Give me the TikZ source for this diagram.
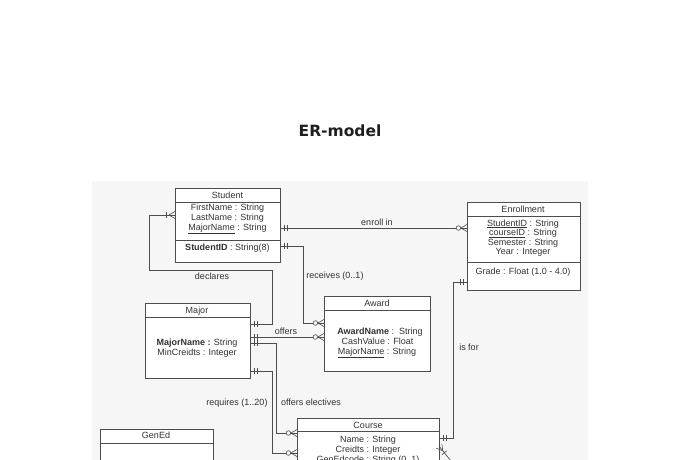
\documentclass[tikz,border=0pt]{standalone}
\usepackage{fontspec}
\setmainfont{Liberation Sans}
\newfontfamily\titlefont{DejaVu Sans}
\usetikzlibrary{calc,decorations.markings}
\definecolor{bg}{HTML}{F6F6F6}
\definecolor{ln}{HTML}{4D4D4D}
\definecolor{tx}{HTML}{333333}
\tikzset{
  box/.style={draw=ln, line width=0.8pt, fill=white, inner sep=0pt, outer sep=0pt, anchor=north west},
  boxline/.style={draw=ln, line width=0.8pt},
  txt/.style={text=tx, font=\fontsize{9}{10}\selectfont, inner sep=0pt, anchor=base},
  conn/.style={draw=ln, line width=0.7pt},
  mk/.style={draw=ln, line width=0.6pt},
  onestart/.style={postaction={decorate, decoration={markings,
    mark=at position 4pt with {\draw[mk] (0,-3) -- (0,3);},
    mark=at position 7pt with {\draw[mk] (0,-3) -- (0,3);}}}},
  oneend/.style={postaction={decorate, decoration={markings,
    mark=at position -4pt with {\draw[mk] (0,-3) -- (0,3);},
    mark=at position -7pt with {\draw[mk] (0,-3) -- (0,3);}}}},
  zmanyend/.style={postaction={decorate, decoration={markings,
    mark=at position -0.1pt with {\draw[mk] (-6,0) -- (0,3.5) (-6,0) -- (0,-3.5);
      \draw[mk, fill=bg] (-8.5,0) circle[radius=2.3pt];}}}},
  onemanyend/.style={postaction={decorate, decoration={markings,
    mark=at position -0.1pt with {\draw[mk] (-6,0) -- (0,3.5) (-6,0) -- (0,-3.5);
      \draw[mk] (-8.5,-3) -- (-8.5,3);}}}},
  manystart/.style={postaction={decorate, decoration={markings,
    mark=at position 0.1pt with {\draw[mk] (6,0) -- (0,3.5) (6,0) -- (0,-3.5);
      \draw[mk] (8.5,-3) -- (8.5,3);}}}},
}
\begin{document}
\begin{tikzpicture}[x=1pt,y=-1pt]
\useasboundingbox (0,0) rectangle (680,459);
\clip (0,0) rectangle (680,459);
\fill[bg] (92,181) rectangle (588,470);

\node[anchor=base, inner sep=0pt, text=black!88, font=\titlefont\bfseries\fontsize{15.5}{18}\selectfont] (title) at (340,136) {ER-model};

% entity boxes
\node[box, minimum width=105pt, minimum height=74pt] (student) at (175,188) {};
\draw[boxline] ($(student.north west)+(0,14)$) -- ($(student.north east)+(0,14)$);
\draw[boxline] ($(student.north west)+(0,52)$) -- ($(student.north east)+(0,52)$);

\node[box, minimum width=113pt, minimum height=88pt] (enrollment) at (467,202) {};
\draw[boxline] ($(enrollment.north west)+(0,14)$) -- ($(enrollment.north east)+(0,14)$);
\draw[boxline] ($(enrollment.north west)+(0,60)$) -- ($(enrollment.north east)+(0,60)$);

\node[box, minimum width=106pt, minimum height=75pt] (award) at (324,296) {};
\draw[boxline] ($(award.north west)+(0,14)$) -- ($(award.north east)+(0,14)$);

\node[box, minimum width=105pt, minimum height=75pt] (major) at (145,303) {};
\draw[boxline] ($(major.north west)+(0,14)$) -- ($(major.north east)+(0,14)$);

\node[box, minimum width=142pt, minimum height=60pt] (course) at (297,418) {};
\draw[boxline] ($(course.north west)+(0,13)$) -- ($(course.north east)+(0,13)$);

\node[box, minimum width=113pt, minimum height=60pt] (gened) at (100,429) {};
\draw[boxline] ($(gened.north west)+(0,14)$) -- ($(gened.north east)+(0,14)$);

% texts
\node[txt] (studentT) at (227.5,198) {Student};
\node[txt] (studentA1) at (227.5,210) {FirstName : String};
\node[txt] (studentA2) at (227.5,220) {LastName : String};
\node[txt] (studentA3) at (227.5,230) {\underline{MajorName} : String};
\node[txt] (studentK) at (227.5,250) {\textbf{StudentID} : String(8)};

\node[txt] (enrollT) at (523,212) {Enrollment};
\node[txt] (enrollA1) at (523,226) {\underline{StudentID} : String};
\node[txt] (enrollA2) at (523,235.5) {\underline{courseID} : String};
\node[txt] (enrollA3) at (523,245.5) {Semester : String};
\node[txt] (enrollA4) at (523,254.5) {Year : Integer};
\node[txt] (enrollK) at (523,274) {Grade : Float (1.0 - 4.0)};

\node[txt] (awardT) at (377,306.5) {Award};
\node[txt] (awardA1) at (380,334) {\textbf{AwardName} :\ \ String};
\node[txt] (awardA2) at (377.5,344) {CashValue : Float};
\node[txt] (awardA3) at (377,354) {\underline{MajorName} : String};

\node[txt] (majorT) at (197,313) {Major};
\node[txt] (majorA1) at (197,345.5) {\textbf{MajorName :} String};
\node[txt] (majorA2) at (197,355.5) {MinCreidts : Integer};

\node[txt] (courseT) at (368,428) {Course};
\node[txt] (courseA1) at (368,442.5) {Name : String};
\node[txt] (courseA2) at (368,452.5) {Creidts : Integer};
\node[txt] (courseA3) at (368,462.5) {GenEdcode : String (0..1)};

\node[txt] (genedT) at (156,438) {GenEd};

% relationship labels
\node[txt] (lEnroll) at (377,225.5) {enroll in};
\node[txt] (lReceives) at (335,278.5) {receives (0..1)};
\node[txt] (lDeclares) at (212,279) {declares};
\node[txt] (lOffers) at (286,334) {offers};
\node[txt] (lRequires) at (237,405) {requires (1..20)};
\node[txt] (lElectives) at (311,405) {offers electives};
\node[txt] (lIsfor) at (469,350) {is for};

% connectors
\draw[conn, onestart, zmanyend] ($(student.north east)+(0,40)$) -- ($(enrollment.north west)+(0,26)$);
\draw[conn, onestart, zmanyend] ($(student.north east)+(0,58)$) -- ++(23,0) |- ($(award.north west)+(0,27)$);
\draw[conn, onestart, onemanyend] ($(major.north east)+(0,21)$) -- ++(22,0) |- ($(student.north west)+(-26,82)$) |- ($(student.north west)+(0,27)$);
\draw[conn, onestart, zmanyend] ($(major.north east)+(0,34)$) -- ($(award.north west)+(0,41)$);
\draw[conn, onestart, zmanyend] ($(major.north east)+(0,40)$) -- ++(26,0) |- ($(course.north west)+(0,15)$);
\draw[conn, onestart, zmanyend] ($(major.north east)+(0,68)$) -- ++(22,0) |- ($(course.north west)+(0,35)$);
\draw[conn, onestart, oneend] ($(enrollment.north west)+(0,80)$) -- ++(-14,0) |- ($(course.north east)+(0,20)$);
\coordinate (offpage) at ($(course.north east)+(16,48)$);
\draw[conn, manystart] ($(course.north east)+(0,28)$) -- (offpage);
\end{tikzpicture}
\end{document}
